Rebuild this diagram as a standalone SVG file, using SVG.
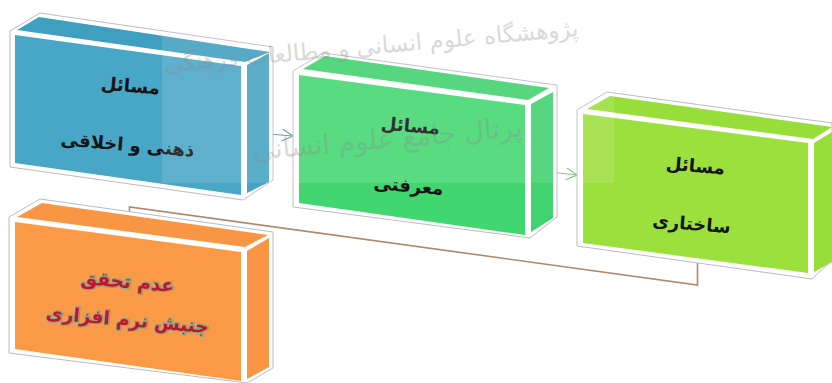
<svg xmlns="http://www.w3.org/2000/svg" width="832" height="383" viewBox="0 0 832 383">
<style>
.o{fill:#fff;stroke:#b9bcc0;stroke-width:1;stroke-linejoin:round}
.t{font-family:"DejaVu Sans",sans-serif;font-weight:700;font-size:18px;fill:#141414;text-anchor:middle}
.r{fill:#c4142a;stroke:#8fa585;stroke-width:2.5;paint-order:stroke;font-size:18.500px}
.w{font-family:"DejaVu Sans",sans-serif;fill:#8b8b8b;opacity:.32;text-anchor:middle}
.c{fill:none;stroke-width:1.2}
</style>
<defs>
<marker id="ab" markerWidth="14" markerHeight="14" refX="12" refY="6" orient="auto" markerUnits="userSpaceOnUse"><path d="M1 0L12 6L1 12" fill="none" stroke="#5b95a6" stroke-width="1.2"/></marker>
<marker id="ag" markerWidth="14" markerHeight="14" refX="12" refY="6" orient="auto" markerUnits="userSpaceOnUse"><path d="M1 0L12 6L1 12" fill="none" stroke="#6fbf78" stroke-width="1.2"/></marker>
</defs>
<rect width="832" height="383" fill="#fff"/>
<g id="connectors">
<path class="c" d="M269 134L293 136" stroke="#5b95a6" marker-end="url(#ab)"/>
<path class="c" d="M530 170L577 175" stroke="#6fbf78" marker-end="url(#ag)"/>
<path d="M129.500 216V207L697.500 285V263" fill="none" stroke="#b08a6c" stroke-width="1.600"/>
</g>
<g id="node-blue">
<path class="o" d="M10 31L40 13L273 47V180L243 200L10 167Z"/>
<path fill="#3f9fc0" d="M17 30L39 17L270 52L245 62Z"/>
<path fill="#48a6c6" d="M15 35L241 66V195L15 163Z"/>
<path fill="#45a3c3" d="M247 65L269 53V182L247 193Z"/>
<text class="t" transform="translate(130 92) rotate(5)">مسائل</text>
<text class="t" transform="translate(127 151) rotate(5)">ذهنی و اخلاقی</text>
</g>
<g id="node-green">
<path class="o" d="M293 71L323 53L557 85V217L530 238L293 207Z"/>
<path fill="#3fd26e" d="M303 69L325 56L549 88L528 100Z"/>
<path fill="#41d670" d="M299 75L525 105V235L299 203Z"/>
<path fill="#3fd26e" d="M531 104L553 92V218L531 232Z"/>
<text class="t" transform="translate(410 132) rotate(5)">مسائل</text>
<text class="t" transform="translate(408 192) rotate(5)">معرفتی</text>
</g>
<g id="node-lime">
<path class="o" d="M577 110L607 92L832 123V260L812 279L577 246Z"/>
<path fill="#98de3a" d="M587 109L610 96L832 127L813 139Z"/>
<path fill="#9be03c" d="M583 114L808 143V273L583 243Z"/>
<path fill="#98de3a" d="M814 143L832 132V262L814 272Z"/>
<text class="t" transform="translate(695 172) rotate(5)">مسائل</text>
<text class="t" transform="translate(691 230) rotate(5)">ساختاری</text>
</g>
<g id="node-orange">
<path class="o" d="M9 217L40 199L273 232V368L247 383L9 353Z"/>
<path fill="#f99643" d="M17 217L42 203L268 235L245 247Z"/>
<path fill="#fb9a46" d="M15 222L241 252V381L15 349Z"/>
<path fill="#f99643" d="M247 251L269 238V367L247 379Z"/>
<text class="t r" transform="translate(127 288) rotate(5)">عدم تحقق</text>
<text class="t r" transform="translate(127 326) rotate(5)">جنبش نرم افزاری</text>
</g>
<g id="overlay">
<rect x="162" y="0" width="452" height="183" fill="#fff" opacity=".12"/>
<text class="w" font-size="23" transform="translate(372 54) rotate(-5)">پژوهشگاه علوم انسانی و مطالعات فرهنگی</text>
<text class="w" font-size="27" transform="translate(388 148) rotate(-5)">پرتال جامع علوم انسانی</text>
</g>
</svg>
